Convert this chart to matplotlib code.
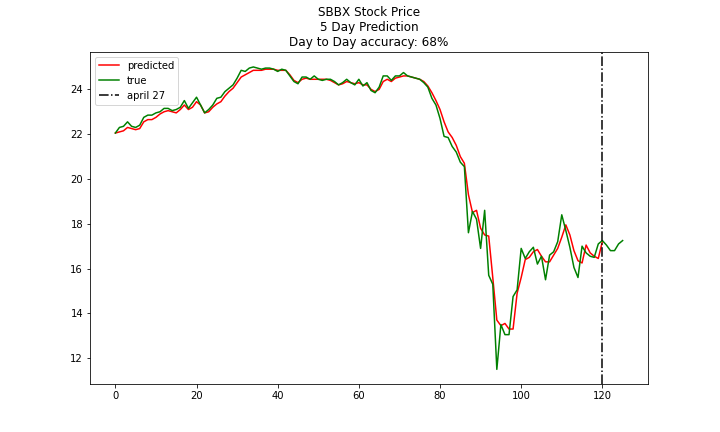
import matplotlib
matplotlib.use("Agg")
import matplotlib.pyplot as plt

true_vals = [22.05, 22.3, 22.35, 22.55, 22.35, 22.3, 22.4, 22.75, 22.85, 22.85,
             22.95, 23.0, 23.15, 23.15, 23.05, 23.1, 23.2, 23.5, 23.15, 23.4,
             23.65, 23.3, 22.95, 23.1, 23.3, 23.6, 23.65, 23.9, 24.05, 24.2,
             24.5, 24.85, 24.8, 24.95, 25.0, 24.95, 24.9, 24.95, 24.95, 24.9,
             24.8, 24.9, 24.85, 24.6, 24.35, 24.25, 24.55, 24.55, 24.45, 24.6,
             24.45, 24.4, 24.45, 24.45, 24.35, 24.2, 24.3, 24.45, 24.3, 24.2,
             24.45, 24.15, 24.3, 23.95, 23.85, 24.1, 24.6, 24.6, 24.4, 24.6,
             24.6, 24.75, 24.6, 24.55, 24.5, 24.45, 24.3, 24.1, 23.6, 23.3,
             22.7, 21.9, 21.85, 21.45, 21.2, 20.75, 20.55, 17.6, 18.55, 18.2,
             16.9, 18.6, 15.7, 15.3, 11.5, 13.5, 13.05, 13.05, 14.75, 15.05,
             16.9, 16.45, 16.75, 16.95, 16.2, 16.55, 15.5, 16.6, 16.75, 17.2,
             18.4, 17.7, 16.95, 16.05, 15.6, 17.0, 16.7, 16.55, 16.5, 17.1,
             17.25, 17.05, 16.8, 16.8, 17.1, 17.25]

pred_vals = [22.05, 22.1, 22.15, 22.3, 22.25, 22.2, 22.25, 22.55, 22.65, 22.65,
             22.75, 22.9, 23.0, 23.05, 23.0, 22.95, 23.1, 23.3, 23.1, 23.2,
             23.45, 23.3, 22.95, 23.0, 23.2, 23.35, 23.45, 23.7, 23.9, 24.05,
             24.3, 24.55, 24.65, 24.75, 24.85, 24.85, 24.85, 24.9, 24.9, 24.9,
             24.85, 24.85, 24.85, 24.65, 24.4, 24.3, 24.45, 24.5, 24.45, 24.45,
             24.45, 24.45, 24.45, 24.4, 24.3, 24.2, 24.25, 24.35, 24.3, 24.25,
             24.3, 24.2, 24.2, 24.0, 23.9, 24.0, 24.35, 24.45, 24.35, 24.5,
             24.55, 24.6, 24.6, 24.55, 24.5, 24.45, 24.35, 24.15, 23.85, 23.5,
             23.1, 22.55, 22.1, 21.85, 21.5, 21.0, 20.7, 19.3, 18.5, 18.6,
             17.8, 17.5, 17.45, 15.6, 13.7, 13.45, 13.55, 13.3, 13.3, 14.9,
             15.6, 16.4, 16.5, 16.75, 16.85, 16.55, 16.3, 16.3, 16.6, 16.9,
             17.4, 17.95, 17.5, 16.8, 16.35, 16.25, 17.05, 16.7, 16.55, 16.45,
             17.2]

cutoff_x = 120

fig = plt.figure(figsize=(10, 6), dpi=72)
plt.plot(range(len(pred_vals)), pred_vals, color="red", label="predicted")
plt.plot(range(len(true_vals)), true_vals, color="green", label="true")
plt.axvline(x=cutoff_x, color="black", linestyle="-.", linewidth=1.5, label="april 27")
plt.title("SBBX Stock Price\n5 Day Prediction\nDay to Day accuracy: 68%")
plt.legend(loc="upper left")
plt.savefig("out.png", dpi=72)
